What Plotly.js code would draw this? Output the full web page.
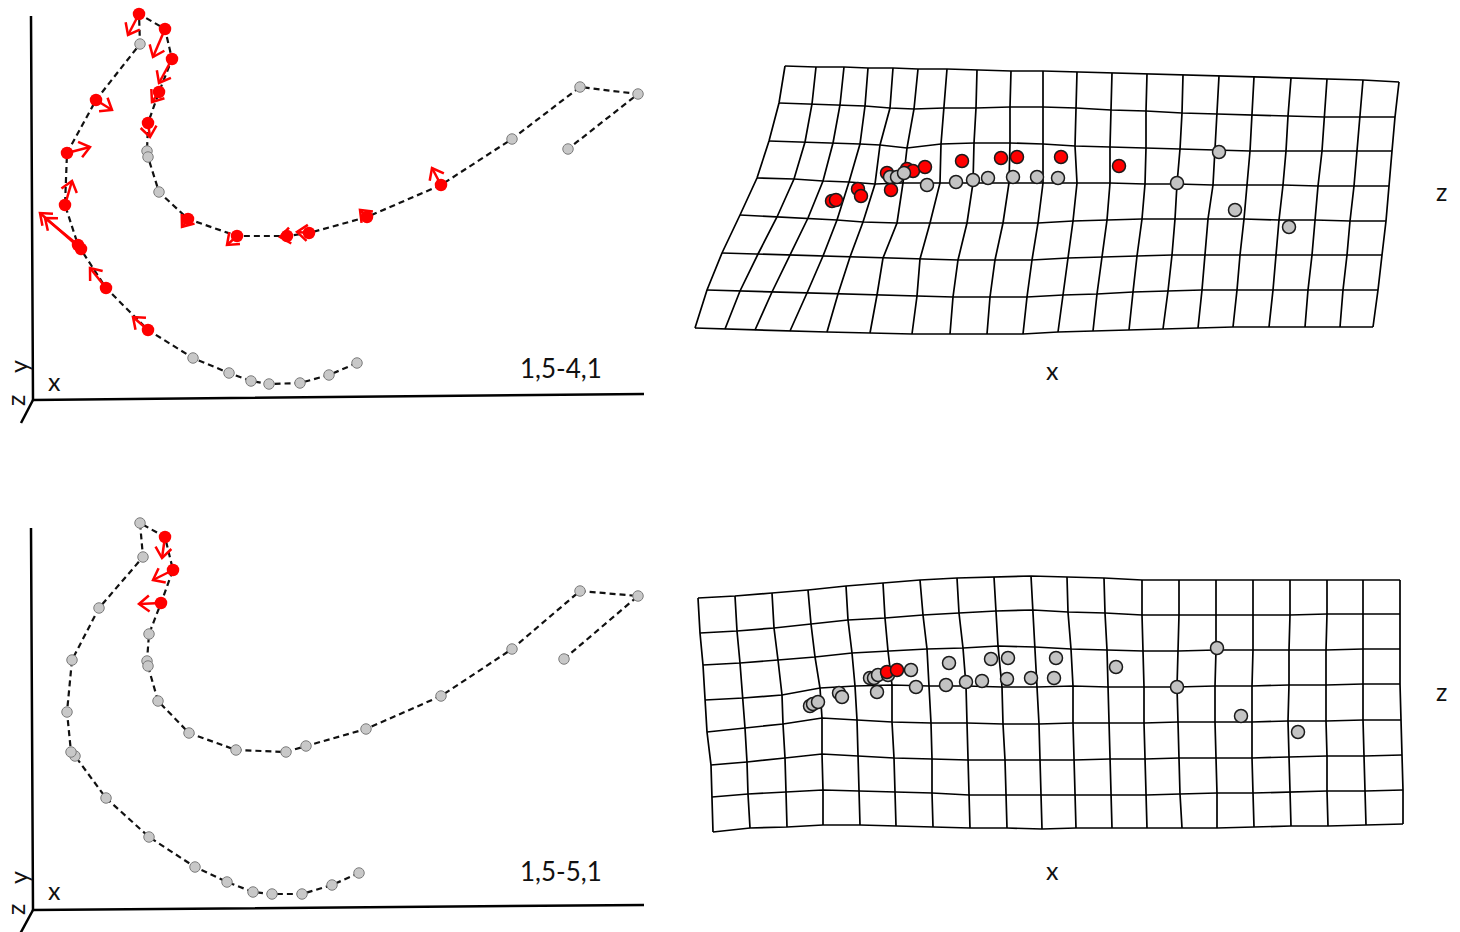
<!DOCTYPE html>
<html><head><meta charset="utf-8">
<script src="https://cdn.plot.ly/plotly-3.0.1.min.js"></script>
<style>html,body{margin:0;padding:0;background:#fff}#chart{width:1460px;height:932px}</style>
</head><body><div id="chart"></div>
<script>
// ---------- Left panels: landmark configuration (consensus), units = digitised units ----------
const landmarkTopX = [324,296,267,236,218,196,160,115,73,48,45,32,34,63,107,106,132,139,126,115,114,115,126,155,204,254,276,334,408,479,547,605,535];
const landmarkTopY = [37,25,17,16,19,27,42,70,112,151,155,195,247,300,356,386,371,341,308,277,249,243,208,181,164,164,167,183,215,261,313,306,251];
const changedTop   = [0,0,0,0,0,0,0,1,1,1,1,1,1,1,0,1,1,1,1,1,0,0,0,1,1,1,1,1,1,0,0,0,0];
const shiftTopX    = [0,0,0,0,0,0,0,-15,-16,-41,-33,7,23,16,0,-11,-12,-13,-7,2,0,0,0,-6,-10,-7,-12,-7,-9,0,0,0,0];
const shiftTopY    = [0,0,0,0,0,0,0,13,20,36,27,24,6,-10,0,-21,-28,-24,-10,-14,0,0,0,-8,-9,-1,1,7,17,0,0,0,0];

const landmarkBotX = [326,299,269,239,220,194,162,116,73,42,38,34,39,66,110,107,132,140,128,116,114,115,125,156,203,253,273,333,408,479,547,605,531];
const landmarkBotY = [37,25,16,16,18,28,43,73,112,154,158,198,250,302,353,387,373,340,307,276,249,244,209,177,160,158,164,181,214,261,319,314,251];
const changedBot   = [0,0,0,0,0,0,0,0,0,0,0,0,0,0,0,0,1,1,1,0,0,0,0,0,0,0,0,0,0,0,0,0,0];
const shiftBotX    = [0,0,0,0,0,0,0,0,0,0,0,0,0,0,0,0,-3,-20,-22,0,0,0,0,0,0,0,0,0,0,0,0,0,0];
const shiftBotY    = [0,0,0,0,0,0,0,0,0,0,0,0,0,0,0,0,-21,-10,-1,0,0,0,0,0,0,0,0,0,0,0,0,0,0];

// projected x / y / z axis frame
const frameTopX = [-2,0,611,null,0,-12];
const frameTopY = [384,0,6,null,0,-23];
const frameBotX = [-2,0,611,null,0,-13];
const frameBotY = [382,0,5,null,0,-24];

const labelTop = "1,5-4,1";
const labelBot = "1,5-5,1";

// ---------- Right panels: deformation grids (8 rows x 20 columns of nodes) ----------
const gridTopX = [
 [105,136,164,188,213,238,267,297,331,363,397,432,467,503,539,574,611,647,683,719],
 [99,132,160,185,210,234,264,296,330,363,396,431,466,502,537,572,608,644,680,715],
 [89,125,153,180,200,227,261,294,330,363,395,430,466,500,535,570,606,642,677,712],
 [77,114,143,169,195,223,260,293,329,363,397,430,465,497,533,567,603,638,674,709],
 [60,97,128,157,183,217,250,287,323,358,393,427,462,495,528,564,599,635,670,706],
 [42,78,110,143,170,203,240,278,315,352,388,422,457,492,525,560,596,632,667,702],
 [27,60,92,127,158,197,237,273,310,347,383,417,453,488,522,557,593,628,663,698],
 [15,45,75,110,147,190,232,270,307,343,378,413,449,483,518,553,589,625,660,693]];
const gridTopY = [
 [334,333,333,332,332,331,331,330,329,329,328,327,326,325,324,323,322,321,320,318],
 [297,296,295,294,292,291,292,292,293,293,292,290,289,287,286,285,284,283,283,283],
 [259,258,257,256,255,252,256,257,257,256,254,253,252,251,250,249,249,249,249,249],
 [222,221,219,218,216,217,217,217,217,217,217,217,216,216,215,215,215,214,214,214],
 [185,183,182,180,178,177,177,177,177,177,179,180,181,181,181,181,180,180,179,179],
 [147,146,145,144,143,142,141,140,140,140,142,143,144,145,145,145,145,145,145,145],
 [110,109,108,107,106,105,104,103,103,103,105,106,108,109,110,110,110,110,110,110],
 [72,71,70,69,68,67,66,66,66,66,68,69,70,71,72,73,73,73,73,73]];

const gridBotX = [
 [18,55,92,128,166,203,240,277,314,351,387,424,462,499,536,573,610,647,683,720],
 [20,57,94,131,168,205,243,279,316,353,388,425,462,499,536,573,610,647,683,720],
 [23,60,98,135,172,208,247,283,318,355,391,427,463,498,536,573,609,646,683,720],
 [25,63,102,140,175,212,249,286,322,357,393,428,464,497,535,572,609,646,683,720],
 [27,65,103,142,177,212,251,287,323,359,393,429,464,498,535,572,608,646,683,721],
 [31,67,105,142,178,214,252,288,325,360,394,430,465,499,536,572,609,647,684,722],
 [32,68,106,143,179,215,252,289,326,361,395,431,466,500,537,573,610,647,685,723],
 [33,70,107,143,180,216,253,290,327,362,396,432,467,502,537,574,611,648,686,723]];
const gridBotY = [
 [312,314,317,320,324,327,330,332,333,334,333,332,330,330,330,330,330,330,330,330],
 [277,279,282,286,290,292,295,297,299,300,298,297,295,295,295,295,295,296,296,296],
 [245,247,250,253,257,259,261,262,264,263,261,260,259,259,260,260,260,260,261,261],
 [210,212,215,222,224,225,224,224,223,223,224,223,223,223,224,224,225,225,226,226],
 [178,182,186,192,190,188,187,187,186,186,187,187,187,188,188,188,189,189,190,190],
 [145,148,152,156,154,152,151,150,150,150,150,151,151,152,152,152,153,154,154,155],
 [113,116,118,120,119,118,117,115,115,115,115,115,115,116,117,117,118,119,119,120],
 [78,82,83,85,85,84,83,82,82,81,82,82,82,82,82,83,84,84,85,86]];

// landmarks on the deformation grids
const redTopX  = [152,156,178,181,207,211,227,233,245,282,321,337,381,439];
const redTopY  = [199,200,211,204,227,210,231,229,233,239,242,243,243,234];
const grayTopX = [210,217,224,247,276,293,308,333,357,378,497,539,555,609];
const grayTopY = [223,223,227,215,218,220,222,223,223,222,217,248,190,173];

const grayBotX = [130,133,138,159,162,190,194,198,197,208,231,236,269,266,286,302,311,328,327,351,376,374,436,497,537,561,618];
const grayBotY = [204,206,208,217,213,232,232,235,218,235,240,223,247,225,228,229,251,252,231,232,252,232,243,223,262,194,178];
const redBotX  = [207,217];
const redBotY  = [238,240];

// ---------- build ----------
const RED = '#ff0000';
const FONT = 'Lato, "Open Sans", sans-serif';
const HEAD_LEN = 13;               // arrow-head arm length (axis units; 1 unit = 1 px on both axes)
const HEAD_ANG = 38 * Math.PI / 180;

function pick(arr, flags, v){ return arr.filter((_, i) => flags[i] === v); }

function gridLines(gx, gy){
  const xs = [], ys = [];
  for (let r = 0; r < gx.length; r++){
    for (let c = 0; c < gx[r].length; c++){ xs.push(gx[r][c]); ys.push(gy[r][c]); }
    xs.push(null); ys.push(null);
  }
  for (let c = 0; c < gx[0].length; c++){
    for (let r = 0; r < gx.length; r++){ xs.push(gx[r][c]); ys.push(gy[r][c]); }
    xs.push(null); ys.push(null);
  }
  return {xs, ys};
}

function arrowTrace(lx, ly, dx, dy, flags, xa, ya){
  const xs = [], ys = [];
  for (let i = 0; i < lx.length; i++){
    if (!flags[i]) continue;
    const x0 = lx[i], y0 = ly[i], x1 = lx[i] + dx[i], y1 = ly[i] + dy[i];
    const L = Math.hypot(dx[i], dy[i]) || 1;
    const bx = -dx[i] / L, by = -dy[i] / L;
    const c = Math.cos(HEAD_ANG), s = Math.sin(HEAD_ANG);
    const a1x = x1 + HEAD_LEN * (bx * c - by * s), a1y = y1 + HEAD_LEN * (bx * s + by * c);
    const a2x = x1 + HEAD_LEN * (bx * c + by * s), a2y = y1 + HEAD_LEN * (-bx * s + by * c);
    xs.push(x0, x1, null, a1x, x1, a2x, null);
    ys.push(y0, y1, null, a1y, y1, a2y, null);
  }
  return {x: xs, y: ys, xaxis: xa, yaxis: ya, mode: 'lines', connectgaps: false,
          line: {color: RED, width: 2.5}, hoverinfo: 'skip'};
}

function leftPanel(lx, ly, flags, dx, dy, fx, fy, xa, ya){
  return [
    {x: fx, y: fy, xaxis: xa, yaxis: ya, mode: 'lines', line: {color: '#000', width: 2.5}, hoverinfo: 'skip', connectgaps: false},
    {x: lx, y: ly, xaxis: xa, yaxis: ya, mode: 'lines', line: {color: '#111', width: 2.2, dash: '6px,4px'}, hoverinfo: 'skip'},
    {x: pick(lx, flags, 0), y: pick(ly, flags, 0), xaxis: xa, yaxis: ya, mode: 'markers',
     marker: {size: 10.5, color: '#c8c8c8', line: {color: '#7d7d7d', width: 1}}},
    {x: pick(lx, flags, 1), y: pick(ly, flags, 1), xaxis: xa, yaxis: ya, mode: 'markers',
     marker: {size: 12.5, color: RED, line: {width: 0}}},
    arrowTrace(lx, ly, dx, dy, flags, xa, ya)
  ];
}

function rightPanel(gx, gy, rx, ry, gxs, gys, xa, ya, redOnTop){
  const g = gridLines(gx, gy);
  const grid = {x: g.xs, y: g.ys, xaxis: xa, yaxis: ya, mode: 'lines', line: {color: '#000', width: 1.7}, connectgaps: false, hoverinfo: 'skip'};
  const red = {x: rx, y: ry, xaxis: xa, yaxis: ya, mode: 'markers', marker: {size: 13, color: RED, line: {color: '#1a1a1a', width: 1.5}}};
  const gray = {x: gxs, y: gys, xaxis: xa, yaxis: ya, mode: 'markers', marker: {size: 13, color: '#c3c3c3', line: {color: '#1a1a1a', width: 1.5}}};
  return redOnTop ? [grid, gray, red] : [grid, red, gray];
}

const traces = [].concat(
  leftPanel(landmarkTopX, landmarkTopY, changedTop, shiftTopX, shiftTopY, frameTopX, frameTopY, 'x', 'y'),
  rightPanel(gridTopX, gridTopY, redTopX, redTopY, grayTopX, grayTopY, 'x2', 'y2', false),
  leftPanel(landmarkBotX, landmarkBotY, changedBot, shiftBotX, shiftBotY, frameBotX, frameBotY, 'x3', 'y3'),
  rightPanel(gridBotX, gridBotY, redBotX, redBotY, grayBotX, grayBotY, 'x4', 'y4', true)
);

function txt(text, x, y, size, angle){
  return {text: text, x: x, y: y, xref: 'paper', yref: 'paper', showarrow: false,
    xanchor: 'center', yanchor: 'middle', textangle: angle || 0,
    font: {family: FONT, size: size, color: '#111'}};
}

const W = 1460, H = 932;
const splitX = 680 / W;
const hidden = {visible: false, fixedrange: true};

const annotations = [
  txt(labelTop, 561 / W, 1 - 368 / H, 26),
  txt(labelBot, 561 / W, 1 - 871 / H, 26),
  txt('x', 54 / W, 1 - 381 / H, 25),
  txt('x', 54 / W, 1 - 890 / H, 25),
  txt('y', 18 / W, 1 - 367 / H, 25, -90),
  txt('y', 18 / W, 1 - 878 / H, 25, -90),
  txt('z', 15 / W, 1 - 401 / H, 25, -90),
  txt('z', 15 / W, 1 - 910 / H, 25, -90),
  txt('z', 1441 / W, 1 - 191 / H, 25),
  txt('z', 1441 / W, 1 - 691 / H, 25),
  txt('x', 1052 / W, 1 - 370 / H, 25),
  txt('x', 1052 / W, 1 - 870 / H, 25)
];

const layout = {
  width: W, height: H, autosize: false,
  margin: {l: 0, r: 0, t: 0, b: 0, pad: 0},
  paper_bgcolor: '#fff', plot_bgcolor: '#fff',
  showlegend: false, hovermode: false, dragmode: false,
  xaxis:  Object.assign({domain: [0, splitX], range: [-33, 647], anchor: 'y'}, hidden),
  yaxis:  Object.assign({domain: [0.5, 1], range: [-66, 400], anchor: 'x'}, hidden),
  xaxis2: Object.assign({domain: [splitX, 1], range: [0, 780], anchor: 'y2'}, hidden),
  yaxis2: Object.assign({domain: [0.5, 1], range: [-66, 400], anchor: 'x2'}, hidden),
  xaxis3: Object.assign({domain: [0, splitX], range: [-33, 647], anchor: 'y3'}, hidden),
  yaxis3: Object.assign({domain: [0, 0.5], range: [-22, 444], anchor: 'x3'}, hidden),
  xaxis4: Object.assign({domain: [splitX, 1], range: [0, 780], anchor: 'y4'}, hidden),
  yaxis4: Object.assign({domain: [0, 0.5], range: [-22, 444], anchor: 'x4'}, hidden),
  annotations: annotations
};

Plotly.newPlot('chart', traces, layout, {staticPlot: true, displayModeBar: false});
</script></body></html>
